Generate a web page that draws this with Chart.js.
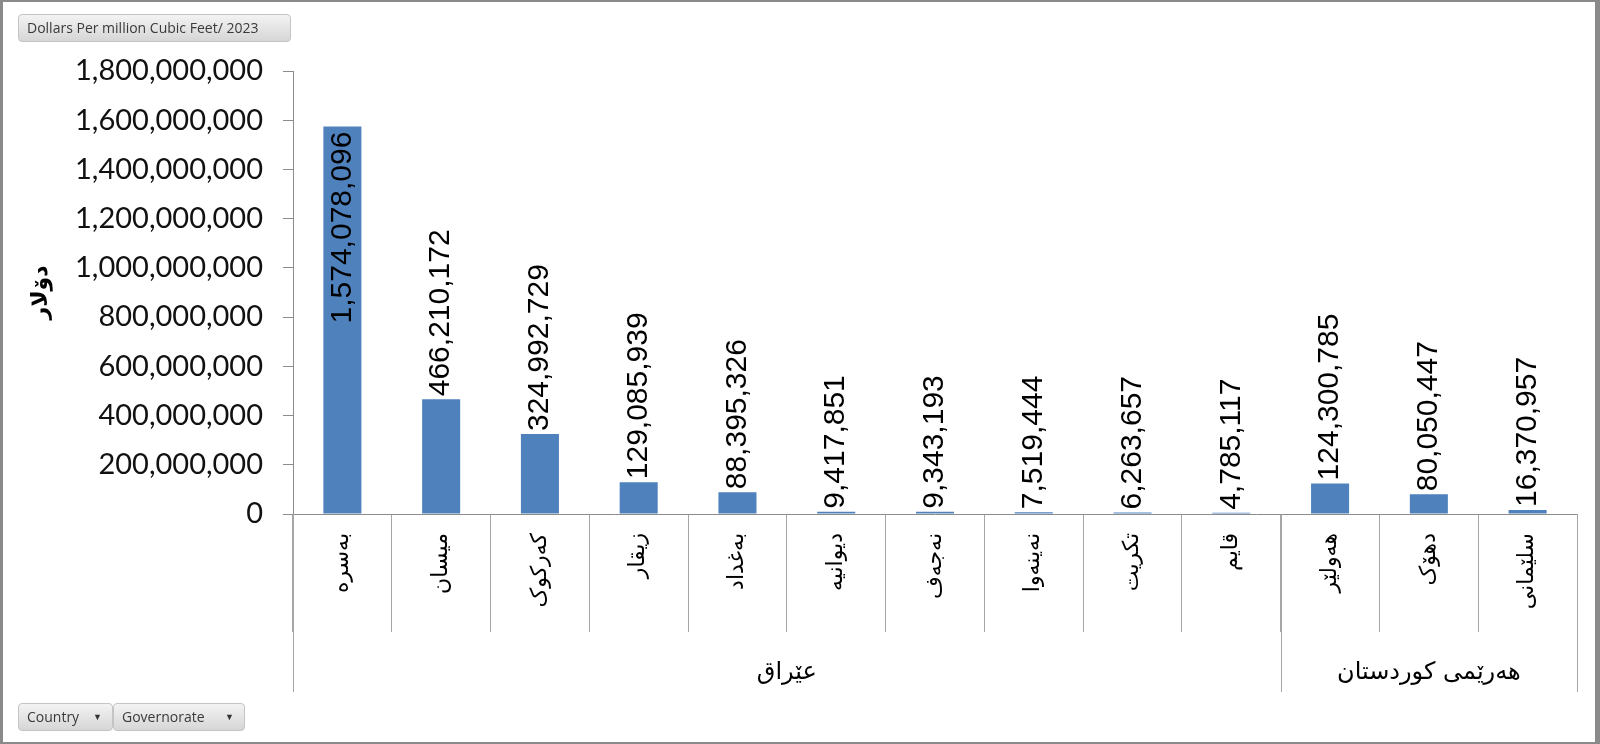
<!DOCTYPE html>
<html><head><meta charset="utf-8">
<script src="https://cdn.jsdelivr.net/npm/chart.js@4/dist/chart.umd.min.js"></script>
<style>
html,body{margin:0;padding:0;background:#fff;}
#wrap{position:relative;width:1600px;height:744px;overflow:hidden;background:#fff;}
#frame{position:absolute;left:0;top:0;width:1600px;height:744px;box-sizing:border-box;border-style:solid;border-color:#8a8a8a;border-width:2px 5px 2px 3px;pointer-events:none;}
.btn{position:absolute;box-sizing:border-box;height:28px;border:1px solid #c4c4c4;border-radius:4px;background:linear-gradient(#f3f3f3,#d6d6d6);font-family:'Open Sans',sans-serif;font-size:14px;color:#3a3a3a;line-height:26px;padding-left:8px;white-space:nowrap;}
.arrow{position:absolute;right:10px;top:0;font-size:9px;color:#333;}
canvas{position:absolute;left:0;top:0;}
</style></head>
<body><div id="wrap"><canvas id="c" width="1600" height="744"></canvas>
<div class="btn" style="left:18px;top:14px;width:273px;">Dollars Per million Cubic Feet/ 2023</div>
<div class="btn" style="left:18px;top:703px;width:95px;">Country<span class="arrow">▼</span></div>
<div class="btn" style="left:113px;top:703px;width:132px;">Governorate<span class="arrow">▼</span></div>
<div id="frame"></div></div>
<script>
const categories = ['بەسرە','میسان','کەرکوک','زیقار','بەغداد','دیوانیە','نەجەف','نەینەوا','تکریت','قایم','هەولێر','دهۆک','سلێمانی'];
const values = [1574078096, 466210172, 324992729, 129085939, 88395326, 9417851, 9343193, 7519444, 6263657, 4785117, 124300785, 80050447, 16370957];
const groupNames = ['عێراق','هەرێمی کوردستان'];
const groupSizes = [10, 3];
const yMin = 0, yMax = 1800000000, yStep = 200000000;
const yAxisTitle = 'دۆلار';

const fmt = v => Number(v).toLocaleString('en-US');

const valueLabels = {
  id: 'valueLabels',
  afterDatasetsDraw(chart) {
    const ctx = chart.ctx, meta = chart.getDatasetMeta(0), area = chart.chartArea;
    ctx.save();
    ctx.font = '30px "Liberation Sans", Arial, sans-serif';
    ctx.fillStyle = '#000';
    ctx.textBaseline = 'middle';
    meta.data.forEach((bar, i) => {
      const txt = fmt(values[i]);
      const w = ctx.measureText(txt).width;
      ctx.save();
      ctx.translate(bar.x, bar.y);
      ctx.rotate(-Math.PI / 2);
      if (bar.y - 3 - w < area.top - 20) { ctx.textAlign = 'right'; ctx.fillText(txt, -5, 0); }
      else { ctx.textAlign = 'left'; ctx.fillText(txt, 3, 0); }
      ctx.restore();
    });
    ctx.restore();
  }
};

const groupRow = {
  id: 'groupRow',
  afterDraw(chart) {
    const xs = chart.scales.x, ctx = chart.ctx;
    const edges = [xs.left];
    let idx = 0;
    groupSizes.forEach(n => {
      idx += n;
      edges.push(idx < categories.length ? (xs.getPixelForValue(idx - 1) + xs.getPixelForValue(idx)) / 2 : xs.right);
    });
    ctx.save();
    ctx.strokeStyle = '#a6a6a6';
    ctx.lineWidth = 1;
    edges.forEach(x => {
      const px = Math.round(x) + 0.5;
      ctx.beginPath(); ctx.moveTo(px, xs.top); ctx.lineTo(px, xs.top + 178); ctx.stroke();
    });
    ctx.fillStyle = '#000';
    ctx.font = '24px "DejaVu Sans", sans-serif';
    ctx.textAlign = 'center';
    ctx.textBaseline = 'middle';
    groupNames.forEach((g, i) => {
      ctx.fillText(g, (edges[i] + edges[i + 1]) / 2, xs.top + 159);
    });
    ctx.restore();
  }
};

new Chart(document.getElementById('c'), {
  type: 'bar',
  data: {
    labels: categories,
    datasets: [{ data: values, backgroundColor: '#4F81BD', barPercentage: 0.385, categoryPercentage: 1 }]
  },
  options: {
    responsive: false,
    devicePixelRatio: 1,
    animation: false,
    layout: { padding: { left: 24, right: 23, top: 71, bottom: 0 } },
    plugins: { legend: { display: false }, tooltip: { enabled: false } },
    scales: {
      x: {
        ticks: { autoSkip: false, minRotation: 90, maxRotation: 90, padding: -99, font: { family: 'DejaVu Sans', size: 22 }, color: '#000' },
        grid: { drawOnChartArea: false, tickLength: 118, color: '#a6a6a6', offset: true },
        border: { color: '#8c8c8c' },
        afterFit(s) { s.height = 230; }
      },
      y: {
        min: yMin, max: yMax,
        ticks: { stepSize: yStep, callback: v => fmt(v), font: { family: 'Lato', size: 29 }, color: '#111', padding: 20 },
        grid: { drawOnChartArea: false, tickLength: 10, color: '#8c8c8c' },
        border: { color: '#8c8c8c' },
        title: { display: true, text: yAxisTitle, font: { family: 'DejaVu Sans', size: 22, weight: 'bold' }, color: '#000' },
        afterFit(s) { s.width = 269; }
      }
    }
  },
  plugins: [valueLabels, groupRow]
});
</script>
</body></html>
